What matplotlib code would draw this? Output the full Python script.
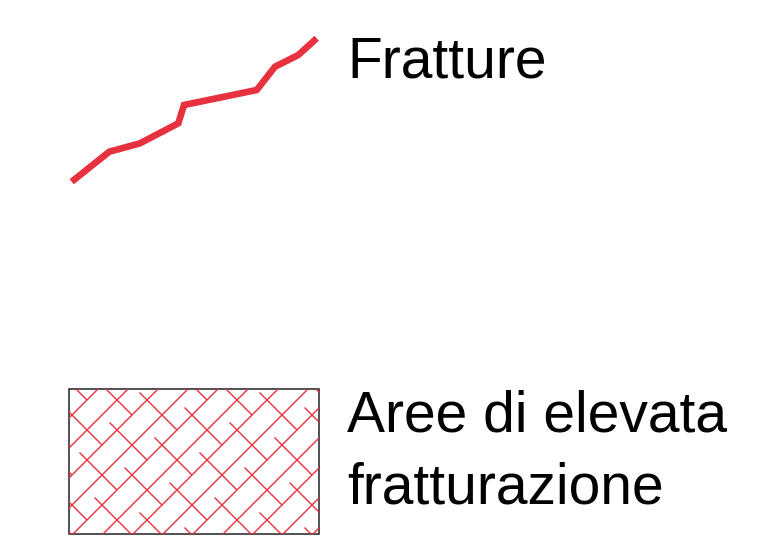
import numpy as np
import matplotlib
matplotlib.use("Agg")
import matplotlib.pyplot as plt
from matplotlib.collections import LineCollection
from matplotlib.patches import Rectangle

plt.rcParams["font.family"] = ["Liberation Sans", "DejaVu Sans"]

# fracture trace (pixel coords of the legend sheet)
frac_x = [71.7, 109.3, 140.0, 178.3, 184.0, 256.7, 275.0, 298.3, 316.7]
frac_y = [181.7, 151.7, 143.3, 123.3, 105.0, 90.0, 66.7, 55.0, 38.3]

# legend box for the hatched area
box_x0, box_y0, box_x1, box_y1 = 69, 389, 319, 534

labels = ["Fratture", "Aree di elevata", "fratturazione"]
label_x = [347, 347, 347]
label_y = [78, 431, 503]

RED = "#e8313f"

fig = plt.figure(figsize=(7.79, 5.45), dpi=100)
ax = fig.add_axes([0, 0, 1, 1])
ax.set_xlim(0, 779)
ax.set_ylim(545, 0)
ax.axis("off")

ax.plot(frac_x, frac_y, color=RED, lw=4.8, solid_joinstyle="miter",
        solid_capstyle="butt")

# hatch: continuous lines going up-right (x+y = c), dashed ones going down-right (x-y = d)
step = 30
segs = []
for c in np.arange(487 - 10 * step, 487 + 20 * step, step):
    segs.append([((c - 600) / 2, (c + 600) / 2), ((c + 600) / 2, (c - 600) / 2)])
for m in range(-12, 12):
    d = -313 + step * m
    for i in range(-10, 12):
        if (i - m) % 2:
            continue
        c0 = 532 + 2 * step * i
        c1 = c0 + 2.5 * step
        segs.append([((c0 + d) / 2, (c0 - d) / 2), ((c1 + d) / 2, (c1 - d) / 2)])

box = Rectangle((box_x0, box_y0), box_x1 - box_x0, box_y1 - box_y0,
                fill=False, transform=ax.transData)
hatch = LineCollection(segs, colors=RED, linewidths=1.0)
ax.add_collection(hatch)
hatch.set_clip_path(box)

ax.add_patch(Rectangle((box_x0, box_y0), box_x1 - box_x0, box_y1 - box_y0,
                       fill=False, edgecolor="#222222", lw=1.1))

for t, x, y in zip(labels, label_x, label_y):
    ax.text(x, y, t, fontsize=41, va="baseline", ha="left", color="black")

fig.savefig("out.png", dpi=100)
